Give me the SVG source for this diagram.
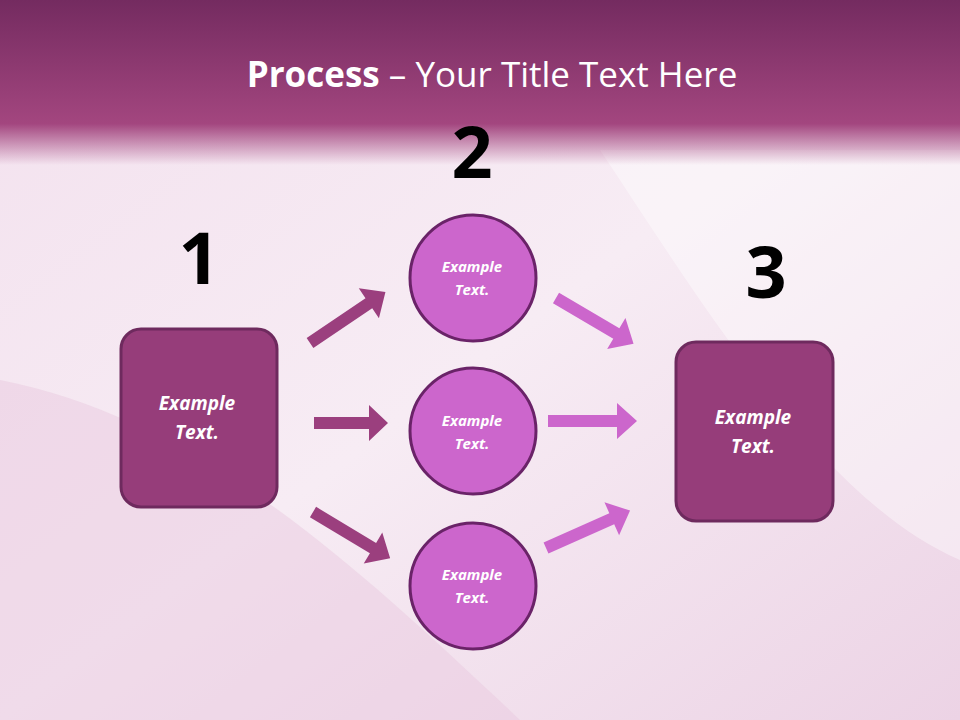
<svg xmlns="http://www.w3.org/2000/svg" width="960" height="720" viewBox="0 0 960 720">
<defs>
<linearGradient id="hdr" x1="0" y1="0" x2="0" y2="1">
<stop offset="0" stop-color="#742b60"/><stop offset="0.75" stop-color="#a3467f"/><stop offset="1" stop-color="#a3467f" stop-opacity="0"/>
</linearGradient>
<linearGradient id="bg" x1="0" y1="0" x2="1" y2="1">
<stop offset="0" stop-color="#f3e1ee"/><stop offset="0.5" stop-color="#f7ecf4"/><stop offset="1" stop-color="#ecd3e5"/>
</linearGradient>
<style>
.box{fill:#963d7a;stroke:#6e2a5e;stroke-width:3}
.cir{fill:#cc66cc;stroke:#6a2368;stroke-width:3}
.t{font-family:"Open Sans","Liberation Sans",sans-serif;font-style:italic;font-weight:bold;fill:#fff;text-anchor:middle}
.num{font-family:"Open Sans","Liberation Sans",sans-serif;font-weight:bold;font-size:72px;fill:#000;text-anchor:middle}
.la{fill:#9b3f7e}.ra{fill:#cc66cc}
</style>
</defs>
<rect width="960" height="720" fill="url(#bg)"/>
<path d="M0,380 C200,420 350,560 520,720 L0,720Z" fill="#e9c9df" opacity="0.5"/>
<path d="M600,150 C700,300 820,500 960,560 L960,150Z" fill="#ffffff" opacity="0.4"/>
<rect width="960" height="165" fill="url(#hdr)"/>
<text x="492" y="87" font-family="'Open Sans','Liberation Sans',sans-serif" font-size="35" fill="#fff" text-anchor="middle"><tspan font-weight="bold">Process</tspan> – Your Title Text Here</text>
<text class="num" x="199" y="284">1</text>
<text class="num" x="472" y="178">2</text>
<text class="num" x="766" y="298">3</text>
<g id="connectors">
<path class="la" transform="translate(310,343) rotate(-34)" d="M0,-6H71V-18L91,0L71,18V6H0Z"/>
<path class="la" transform="translate(314,423)" d="M0,-6H55V-18L74,0L55,18V6H0Z"/>
<path class="la" transform="translate(313,512) rotate(31)" d="M0,-6H70V-18L90,0L70,18V6H0Z"/>
<path class="ra" transform="translate(556,298) rotate(30.5)" d="M0,-6H70V-18L90,0L70,18V6H0Z"/>
<path class="ra" transform="translate(548,421)" d="M0,-6H69V-18L89,0L69,18V6H0Z"/>
<path class="ra" transform="translate(546,548) rotate(-24)" d="M0,-6H72V-18L92,0L72,18V6H0Z"/>
</g>
<g id="n1"><rect class="box" x="121" y="329" width="156" height="178" rx="20"/><text class="t" font-size="19" x="197" y="410">Example</text><text class="t" font-size="19" x="197" y="439">Text.</text></g>
<g id="n2a"><circle class="cir" cx="473" cy="278" r="63"/><text class="t" font-size="15" x="472" y="272">Example</text><text class="t" font-size="15" x="472" y="295">Text.</text></g>
<g id="n2b"><circle class="cir" cx="473" cy="431" r="63"/><text class="t" font-size="15" x="472" y="426">Example</text><text class="t" font-size="15" x="472" y="449">Text.</text></g>
<g id="n2c"><circle class="cir" cx="473" cy="586" r="63"/><text class="t" font-size="15" x="472" y="580">Example</text><text class="t" font-size="15" x="472" y="603">Text.</text></g>
<g id="n3"><rect class="box" x="676" y="342" width="157" height="179" rx="20"/><text class="t" font-size="19" x="753" y="424">Example</text><text class="t" font-size="19" x="753" y="453">Text.</text></g>
</svg>
